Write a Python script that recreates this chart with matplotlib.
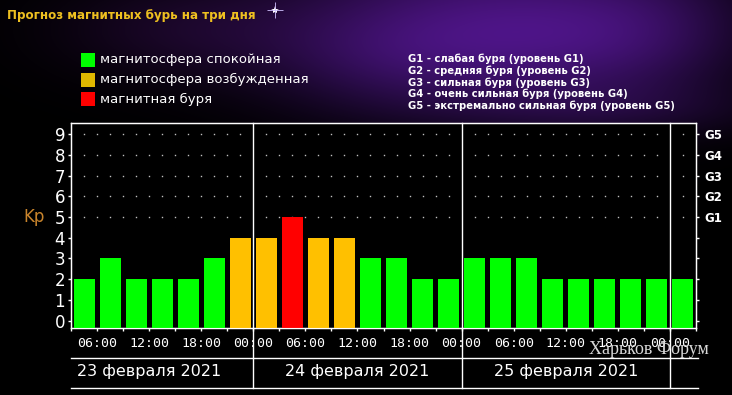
import numpy as np
import matplotlib
matplotlib.use('Agg')
import matplotlib.pyplot as plt
from matplotlib import transforms
from matplotlib.patches import Rectangle

# Kp forecast, 3-hour slots starting 23 Feb 03:00
kp = [2, 3, 2, 2, 2, 3, 4,
      4, 5, 4, 4, 3, 3, 2, 2,
      3, 3, 3, 2, 2, 2, 2, 2,
      2]
start_hour = 3
slot = 3
day_labels = ['23 февраля 2021', '24 февраля 2021', '25 февраля 2021']
legend_labels = ['магнитосфера спокойная', 'магнитосфера возбужденная', 'магнитная буря']
legend_colors = ['#00FF00', '#E0B800', '#FF0000']
storm_lines = ['G1 - слабая буря (уровень G1)',
               'G2 - средняя буря (уровень G2)',
               'G3 - сильная буря (уровень G3)',
               'G4 - очень сильная буря (уровень G4)',
               'G5 - экстремально сильная буря (уровень G5)']
g_labels = ['G1', 'G2', 'G3', 'G4', 'G5']

W, H = 732, 395
fig = plt.figure(figsize=(W / 100, H / 100), dpi=100, facecolor='black')

# background nebula
bg = fig.add_axes([0, 0, 1, 1], zorder=-5)
yy, xx = np.mgrid[0:H, 0:W]
img = np.zeros((H, W, 3))
blobs = [(480, 10, 150, 60, (0.20, 0.05, 0.34)),
         (560, 45, 90, 45, (0.10, 0.03, 0.18)),
         (390, 60, 90, 40, (0.10, 0.03, 0.18)),
         (660, 30, 70, 50, (0.08, 0.02, 0.14)),
         (180, 30, 90, 35, (0.08, 0.02, 0.12)),
         (600, 110, 120, 20, (0.07, 0.02, 0.12))]
for cx, cy, sx, sy, col in blobs:
    g = np.exp(-((xx - cx) ** 2 / (2 * sx ** 2) + (yy - cy) ** 2 / (2 * sy ** 2)))
    img += g[..., None] * np.array(col)
img = np.clip(img, 0, 1)
bg.imshow(img, extent=[0, W, H, 0], aspect='auto')
bg.plot([275], [10], marker='*', ms=6, color='white', mew=0)
bg.plot([275], [10], marker='+', ms=11, color='#D0C0FF', mew=0.6)
bg.set_xlim(0, W)
bg.set_ylim(H, 0)
bg.axis('off')

# title and legends
fig.text(7 / W, 1 - 15 / H, 'Прогноз магнитных бурь на три дня', fontsize=8.6,
         fontweight='bold', color='#EEC020', va='center')
for i, (lab, c) in enumerate(zip(legend_labels, legend_colors)):
    yc = 60 + 19.7 * i
    fig.patches.append(Rectangle((81 / W, 1 - (yc + 7) / H), 14 / W, 14 / H,
                                 transform=fig.transFigure, facecolor=c, edgecolor='none'))
    fig.text(100 / W, 1 - yc / H, lab, fontsize=9.5, color='white', va='center')
for i, s in enumerate(storm_lines):
    fig.text(408 / W, 1 - (58.7 + 11.8 * i) / H, s, fontsize=7.2, fontweight='bold',
             color='white', va='center')

# main axes
ax = fig.add_axes([71 / W, 1 - 328 / H, 625 / W, 205 / H])
ax.set_facecolor('black')
ymin, ymax = -0.36, 9.54
xmax = start_hour + slot * len(kp)
ax.set_xlim(start_hour, xmax)
ax.set_ylim(ymin, ymax)

centers = start_hour + slot * np.arange(len(kp)) + slot / 2
bar_colors = ['#00FF00' if v < 4 else ('#FFC000' if v == 4 else '#FF0000') for v in kp]
ax.bar(centers, np.array(kp) - ymin, bottom=ymin, width=slot * 21 / 26,
       color=bar_colors, zorder=3)

# dotted grid at levels 5..9
dot_x = np.array([x for x in np.arange(4.5, xmax, 1.5) if x % 24 != 0])
for lev in range(5, 10):
    ax.plot(dot_x, [lev] * len(dot_x), ls='none', marker='s', ms=1.0, mew=0,
            color='#C0C0C0', zorder=1)

trans = transforms.blended_transform_factory(ax.transData, ax.transAxes)
for d in range(24, int(xmax), 24):
    ax.plot([d, d], [1, -0.293], transform=trans, color='white', lw=1,
            clip_on=False, zorder=4)
for yl in (-0.146, -0.293):
    ax.plot([0, 1.003], [yl, yl], transform=ax.transAxes, color='white', lw=1,
            clip_on=False)
for i, lab in enumerate(day_labels):
    ax.text(12 + 24 * i, -0.2146, lab, transform=trans, ha='center', va='center',
            fontsize=11.5, color='white')

for sp in ax.spines.values():
    sp.set_color('white')
    sp.set_linewidth(1)

major = np.arange(6, xmax, 6)
ax.set_xticks(major)
ax.set_xticklabels([f'{int(h) % 24:02d}:00' for h in major], family='DejaVu Sans Mono',
                   fontsize=9.5, color='white')
ax.set_xticks(np.arange(start_hour, xmax + 1, slot), minor=True)
ax.tick_params(axis='x', which='both', direction='out', length=2.2, width=1,
               color='white', pad=4)
ax.set_yticks(range(10))
ax.set_yticklabels([str(i) for i in range(10)], fontsize=12, color='white')
ax.tick_params(axis='y', direction='out', length=2.2, width=1, color='white', pad=2)

ax2 = ax.twinx()
ax2.set_ylim(ymin, ymax)
ax2.set_yticks(range(10))
ax2.set_yticklabels([''] * 5 + g_labels, fontsize=8.5, fontweight='bold', color='white')
ax2.tick_params(axis='y', direction='out', length=2.2, width=1, color='white', pad=4)
for sp in ax2.spines.values():
    sp.set_color('white')

fig.text(34 / W, 1 - 217 / H, 'Kp', color='#C8842C', fontsize=12, ha='center', va='center')
fig.text(649 / W, 1 - 350 / H, 'Харьков Форум', family='Liberation Serif', fontsize=13,
         color='#D8D8D8', ha='center', va='center', zorder=10)

fig.savefig('out.png', dpi=100, facecolor='black')
